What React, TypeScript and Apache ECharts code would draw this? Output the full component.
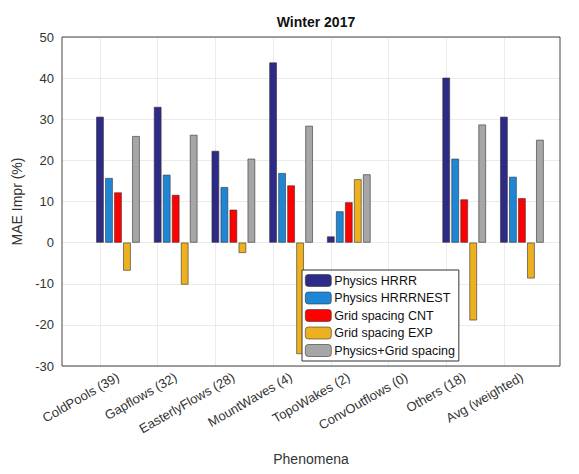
import React, { useEffect, useRef } from "react";
import * as echarts from "echarts";

const categories = ["ColdPools (39)", "Gapflows (32)", "EasterlyFlows (28)", "MountWaves (4)", "TopoWakes (2)", "ConvOutflows (0)", "Others (18)", "Avg (weighted)"];
const seriesNames = ["Physics HRRR", "Physics HRRRNEST", "Grid spacing CNT", "Grid spacing EXP", "Physics+Grid spacing"];
const physHRRR = [30.6, 33.0, 22.3, 43.8, 1.5, 0, 40.1, 30.6];
const physNEST = [15.7, 16.5, 13.5, 16.9, 7.6, 0, 20.4, 16.0];
const gridCNT = [12.2, 11.6, 8.0, 13.9, 9.8, 0, 10.5, 10.8];
const gridEXP = [-6.8, -10.2, -2.5, -27.1, 15.4, 0, -18.9, -8.7];
const physGrid = [25.9, 26.2, 20.4, 28.4, 16.6, 0, 28.7, 25.0];
const colors = ["#2e2a87", "#1f86d6", "#ff0000", "#edb120", "#a6a6a6"];
const yTicks = [-30, -20, -10, 0, 10, 20, 30, 40, 50];

export default function App() {
  const ref = useRef<HTMLDivElement>(null);
  useEffect(() => {
    const chart = echarts.init(ref.current!, null, { renderer: "svg" });
    const all = [physHRRR, physNEST, gridCNT, gridEXP, physGrid];
    const font = "Liberation Sans, Arial, sans-serif";
    const series: any[] = all.map((vals, i) => ({
      type: "bar",
      name: seriesNames[i],
      data: vals.map((v, j) => ({
        value: [j + 1, v],
        itemStyle: v === 0 ? { borderWidth: 0, opacity: 0 } : undefined,
      })),
      barWidth: 7.5,
      barGap: "20%",
      itemStyle: { color: colors[i], borderColor: "#333", borderWidth: 0.6 },
      z: 3,
    }));
    series[0].markLine = {
      silent: true,
      symbol: "none",
      label: { show: false },
      lineStyle: { color: "#ebebeb", type: "solid", width: 1 },
      data: categories.map((_, j) => ({ xAxis: j + 1 })),
      z: 1,
    };
    chart.setOption({
      animation: false,
      title: {
        text: "Winter 2017",
        left: 303,
        top: 2,
        textAlign: "center",
        textStyle: { fontFamily: font, fontSize: 14, fontWeight: "bold", color: "#111" },
      },
      grid: { left: 54, top: 29, width: 498, height: 329, outerBoundsMode: "none", containLabel: false },
      legend: {
        orient: "vertical",
        left: 294,
        top: 262,
        itemWidth: 26,
        itemHeight: 12,
        itemGap: 4.5,
        padding: [4, 4, 4, 3],
        borderColor: "#333",
        borderWidth: 1,
        backgroundColor: "#fff",
        textStyle: { fontFamily: font, fontSize: 12.5, color: "#111", padding: [0, 0, 0, -2] },
        data: seriesNames,
        itemStyle: { borderColor: "#333", borderWidth: 0.6 },
        z: 10,
      },
      xAxis: {
        type: "value",
        min: 0.03,
        max: 8.66,
        name: "Phenomena",
        nameLocation: "middle",
        nameGap: 86,
        nameTextStyle: { fontFamily: font, fontSize: 14, color: "#333" },
        axisLine: { show: false },
        axisTick: { show: false },
        splitLine: { show: false },
        axisLabel: {
          customValues: categories.map((_, j) => j + 1),
          formatter: (v: number) => categories[Math.round(v) - 1] ?? "",
          rotate: 30,
          fontFamily: font,
          fontSize: 13,
          color: "#333",
          margin: 10,
        },
      },
      yAxis: {
        type: "value",
        min: -30,
        max: 50,
        interval: 10,
        name: "MAE Impr (%)",
        nameLocation: "middle",
        nameGap: 33,
        nameTextStyle: { fontFamily: font, fontSize: 14, color: "#333" },
        axisLine: { show: false },
        axisTick: { show: false },
        splitLine: { lineStyle: { color: "#ebebeb" } },
        axisLabel: {
          fontFamily: font,
          fontSize: 13,
          color: "#333",
          formatter: (v: number) => (yTicks.includes(v) ? String(v) : ""),
        },
      },
      graphic: [
        {
          type: "rect",
          shape: { x: 54, y: 29, width: 498, height: 329 },
          style: { fill: "none", stroke: "#444", lineWidth: 1 },
          z: 5,
          silent: true,
        },
      ],
      series,
    });
    return () => chart.dispose();
  }, []);
  return <div ref={ref} style={{ width: 563, height: 458 }} />;
}
